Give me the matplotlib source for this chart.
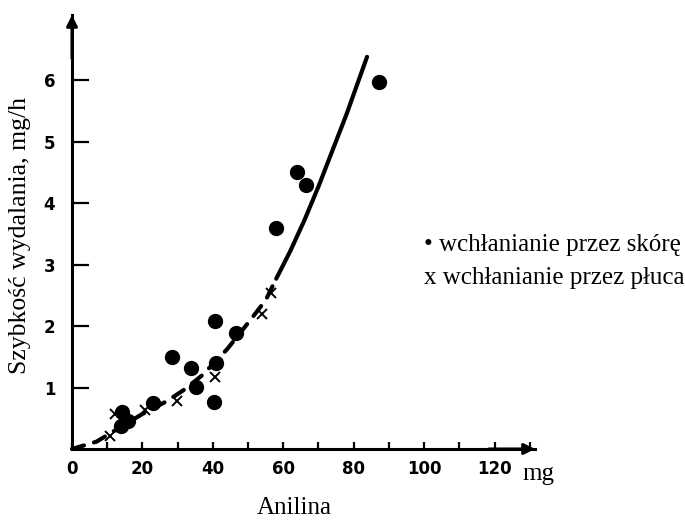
import matplotlib
matplotlib.use("Agg")
import matplotlib.pyplot as plt
from matplotlib.ticker import MultipleLocator

# ---- data ----
skin_x = [14.2, 13.9, 15.9, 23.0, 28.4, 33.8, 35.2, 40.3, 40.9, 40.6, 46.6, 58.0, 63.9, 66.5, 87.2]
skin_y = [0.60, 0.38, 0.46, 0.75, 1.50, 1.31, 1.01, 0.77, 1.40, 2.09, 1.89, 3.59, 4.50, 4.29, 5.97]

lung_x = [10.8, 12.2, 20.7, 29.8, 40.6, 54.0, 56.5]
lung_y = [0.21, 0.57, 0.64, 0.78, 1.17, 2.19, 2.54]

dash_x = [0, 7, 13, 20, 27, 32, 37, 44, 50, 55, 58]
dash_y = [0, 0.12, 0.33, 0.57, 0.78, 0.97, 1.20, 1.62, 2.05, 2.42, 2.77]

solid_x = [58, 62, 66, 70, 74, 78, 83.8]
solid_y = [2.77, 3.22, 3.72, 4.27, 4.86, 5.45, 6.38]

yticks = [1, 2, 3, 4, 5, 6]
xticks = [0, 20, 40, 60, 80, 100, 120]

W, H = 685, 522
fig = plt.figure(figsize=(W / 100, H / 100), dpi=100)
x0, y0, x1, y1 = 72, 449, 535, 15
ax = fig.add_axes([x0 / W, 1 - y0 / H, (x1 - x0) / W, (y0 - y1) / H])
ax.set_xlim(0, 131.5)
ax.set_ylim(0, 7.06)

for s in ["top", "right"]:
    ax.spines[s].set_visible(False)
for s in ["left", "bottom"]:
    ax.spines[s].set_linewidth(2.2)

ax.annotate("", xy=(1.0, 0), xytext=(0.9, 0), xycoords="axes fraction",
            arrowprops=dict(arrowstyle="-|>", lw=2.2, color="black", mutation_scale=16,
                            shrinkA=0, shrinkB=0), annotation_clip=False)
ax.annotate("", xy=(0, 1.0), xytext=(0, 0.9), xycoords="axes fraction",
            arrowprops=dict(arrowstyle="-|>", lw=2.2, color="black", mutation_scale=16,
                            shrinkA=0, shrinkB=0), annotation_clip=False)

ax.plot(dash_x, dash_y, color="black", lw=3, linestyle=(0, (3, 2.5)),
        dash_capstyle="round", clip_on=False)
ax.plot(solid_x, solid_y, color="black", lw=3, solid_capstyle="round",
        solid_joinstyle="round", clip_on=False)
ax.plot(skin_x, skin_y, "o", color="black", markersize=10, clip_on=False)
ax.plot(lung_x, lung_y, "x", color="black", markersize=7, mew=1.4, clip_on=False)

tickfont = dict(family="DejaVu Sans", weight="bold", size=12)
ax.set_yticks(yticks)
ax.set_yticklabels([str(v) for v in yticks], fontdict=tickfont)
ax.set_xticks(xticks)
ax.set_xticklabels([str(v) for v in xticks], fontdict=tickfont)
ax.xaxis.set_minor_locator(MultipleLocator(10))
ax.tick_params(axis="y", direction="in", length=12, width=1.6, pad=12)
ax.tick_params(axis="x", which="both", direction="in", length=5, width=1.6, pad=8)

serif = "Liberation Serif"
fig.text(522 / W, 1 - 474 / H, "mg", family=serif, size=18, ha="left", va="center")
fig.text(294 / W, 1 - 508 / H, "Anilina", family=serif, size=18, ha="center", va="center")
fig.text(20 / W, 1 - 235 / H, "Szybkość wydalania, mg/h", family=serif, size=18.5,
         rotation=90, ha="center", va="center")
fig.text(424 / W, 1 - 245 / H, "• wchłanianie przez skórę", family=serif, size=18,
         ha="left", va="center")
fig.text(424 / W, 1 - 278 / H, "x wchłanianie przez płuca", family=serif, size=18,
         ha="left", va="center")

fig.savefig("out.png", dpi=100)
